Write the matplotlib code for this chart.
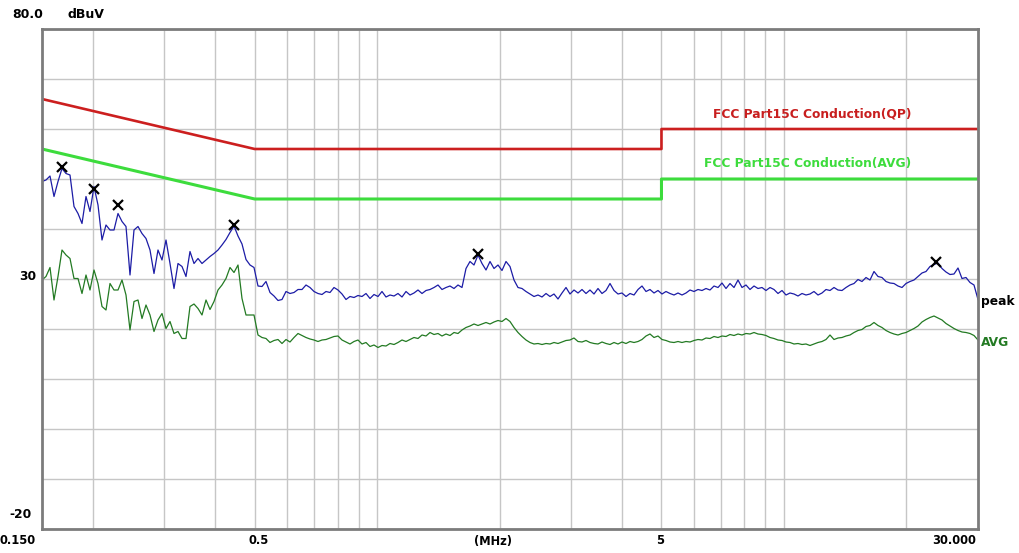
import matplotlib.pyplot as plt
import numpy as np

# limit lines (MHz, dBuV)
qp_freq = [0.15, 0.5, 5, 5, 30]
qp_limit = [66, 56, 56, 60, 60]
av_freq = [0.15, 0.5, 5, 5, 30]
av_limit = [56, 46, 46, 50, 50]

# peak detector sweep
peak_level = [
    49.5, 49.8, 50.6, 46.5, 49.5, 52.1, 51.1, 50.8, 44.5, 43.1,
    41.1, 46.5, 43.5, 48.5, 44.8, 37.8, 40.8, 39.8, 39.8, 43.1,
    41.5, 40.5, 30.8, 39.8, 40.5, 39.1, 38.1, 35.8, 31.1, 35.8,
    33.8, 37.8, 33.1, 28.1, 33.1, 32.5, 30.5, 35.5, 33.1, 34.1,
    33.1,
    33.8, 34.5, 35.1, 35.8, 36.8, 37.9, 39.3, 40.6, 38.6, 37.0,
    33.9, 32.8, 32.3, 28.6, 28.5, 29.5, 27.3, 26.6, 25.7, 25.9,
    27.5, 27.1, 27.3, 27.9, 27.9, 28.8, 28.3, 27.5, 27.1, 26.9,
    27.5, 27.3, 28.3, 27.8, 27.0, 25.9, 26.5, 26.3, 26.7,
    26.5, 27.1, 26.1, 26.9, 26.5, 27.5, 26.4, 26.8, 26.6, 27.1,
    26.4, 27.5, 26.8, 27.2, 27.8, 27.1, 27.7, 27.9, 28.3, 28.8,
    27.9, 28.3, 28.6, 28.1, 28.8, 28.3, 32.1, 33.5, 32.8, 34.8,
    33.1, 31.8, 33.5, 32.1, 32.8, 31.7, 33.5, 32.5, 29.8, 28.3,
    28.1, 27.5, 27.0, 26.5, 26.8, 26.4, 27.1, 26.5, 27.0, 26.0,
    27.2, 28.3, 27.0, 27.8, 27.2, 27.9, 27.1, 27.8, 27.0, 28.1,
    27.1, 27.7, 29.1, 27.7, 27.0, 27.2, 26.5, 27.1, 26.8, 27.9,
    28.6, 27.5, 27.9, 27.2, 27.7, 27.0, 27.5, 27.1, 26.8, 27.2,
    26.8, 27.2, 27.8, 27.5, 27.9, 27.7, 28.1, 27.8, 28.6, 28.3,
    29.2, 28.1, 29.1, 28.3, 29.8, 28.3, 28.8, 27.9, 28.6, 28.1,
    28.3, 27.7, 28.3, 27.9, 27.1, 27.7, 26.8, 27.2, 27.0, 26.6,
    27.1, 26.8, 27.0, 27.5, 26.8, 27.2, 27.9, 27.7, 28.3, 27.8,
    27.7, 28.3, 28.8, 29.1, 29.9, 29.5, 30.3, 29.8, 31.5, 30.5,
    30.3, 29.5, 29.2, 29.1, 28.6, 28.3, 29.1, 29.5, 29.8, 30.5,
    31.2, 31.5, 32.5, 32.9, 33.2, 32.1, 31.4, 30.9, 31.0, 32.2,
    30.1, 30.3, 29.3, 28.8, 25.9,
]

# average detector sweep
avg_level = [
    29.8, 30.5, 32.3, 25.8, 30.5, 35.8, 34.8, 34.1, 30.1, 30.1,
    27.1, 30.8, 27.8, 31.8, 29.1, 24.5, 23.8, 29.1, 27.8, 27.8,
    29.8, 26.8, 19.8, 25.5, 25.8, 22.1, 24.8, 22.8, 19.5, 21.8,
    23.1, 20.1, 21.5, 19.1, 19.5, 18.1, 18.1, 24.5, 25.0, 24.1,
    22.8,
    25.8, 23.9, 25.5, 27.8, 28.8, 30.1, 32.3, 31.3, 32.8, 26.1,
    22.8, 22.8, 22.8, 18.8, 18.3, 18.1, 17.3, 17.7, 17.9, 17.1,
    17.9, 17.4, 18.3, 19.1, 18.7, 18.3, 18.0, 17.8, 17.5, 17.8,
    17.9, 18.2, 18.5, 18.6, 17.8, 17.4, 17.0, 17.5, 17.8,
    17.0, 17.3, 16.5, 16.8, 16.3, 16.7, 16.6, 17.1, 16.9, 17.3,
    17.8, 17.5, 17.9, 18.3, 18.1, 18.8, 18.6, 19.3, 18.9, 19.1,
    18.6, 19.0, 18.7, 19.3, 19.1, 19.8, 20.3, 20.6, 21.0, 20.7,
    21.0, 21.3, 21.0, 21.4, 21.7, 21.5, 22.1, 21.5, 20.3, 19.3,
    18.5, 17.8, 17.3, 17.0, 17.1, 16.9, 17.1, 17.0, 17.3, 17.1,
    17.4, 17.7, 17.8, 18.2, 17.5, 17.4, 17.7, 17.3, 17.1, 17.0,
    17.4, 17.1, 16.9, 17.3, 17.0, 17.4, 17.1, 17.5, 17.3, 17.5,
    17.9, 18.6, 19.0, 18.3, 18.6, 17.9, 17.7, 17.4, 17.3, 17.5,
    17.3, 17.5, 17.4, 17.7, 17.9, 17.8, 18.2, 18.1, 18.5, 18.3,
    18.6, 18.5, 18.9, 18.7, 19.0, 18.8, 19.1, 19.0, 19.3, 19.0,
    18.9, 18.7, 18.3, 18.1, 17.8, 17.7, 17.4, 17.3, 17.0, 17.1,
    16.9, 17.0, 16.7, 17.0, 17.3, 17.5, 17.9, 18.8, 17.9, 18.2,
    18.3, 18.6, 18.8, 19.3, 19.7, 19.9, 20.5, 20.7, 21.3, 20.7,
    20.3, 19.7, 19.3, 19.0, 18.8, 19.1, 19.3, 19.7, 20.1, 20.6,
    21.4, 21.9, 22.3, 22.6, 22.2, 21.8, 21.1, 20.6, 20.1, 19.7,
    19.4, 19.3, 19.1, 18.7, 17.8,
]

# marked peaks
mark_freq = [0.168, 0.201, 0.231, 0.4455, 1.767, 23.7]
mark_level = [52.5, 48.1, 44.8, 40.8, 35.1, 33.5]

grid_freq = [0.2, 0.3, 0.4, 0.5, 0.6, 0.7, 0.8, 0.9, 1, 2, 3, 4, 5, 6, 7, 8, 9, 10, 20]

# sweep points are spaced evenly on the log axis
freq = np.geomspace(0.15, 30, len(peak_level))

W, H = 1019, 553
fig = plt.figure(figsize=(W / 100, H / 100), dpi=100)
ax = fig.add_axes([42 / W, 1 - 529 / H, 936 / W, 500 / H])
ax.set_xscale('log')
ax.set_xlim(0.15, 30)
ax.set_ylim(-20, 80)
ax.set_xticks(grid_freq)
ax.set_yticks(range(-20, 81, 10))
ax.minorticks_off()
ax.tick_params(length=0, labelbottom=False, labelleft=False)
ax.grid(color='#c6c6c6', lw=1)
for s in ax.spines.values():
    s.set_color('#7c7c7c')
    s.set_linewidth(2)

ax.plot(qp_freq, qp_limit, color='#cc1f1f', lw=1.9)
ax.plot(av_freq, av_limit, color='#3ddc3d', lw=2.2)
ax.plot(freq, peak_level, color='#1c1ca6', lw=0.9)
ax.plot(freq, avg_level, color='#237a23', lw=0.9)
ax.plot(mark_freq, mark_level, 'x', color='black', ms=7, mew=1.6)

bold = dict(fontweight='bold', family='DejaVu Sans')
ax.text(20.6, 63.0, 'FCC Part15C Conduction(QP)', color='#c81e1e', fontsize=8.8,
        ha='right', va='center', **bold)
ax.text(20.6, 53.2, 'FCC Part15C Conduction(AVG)', color='#3ddc3d', fontsize=8.8,
        ha='right', va='center', **bold)


def ftext(x, y, s, size=8.8, **kw):
    fig.text(x / W, 1 - y / H, s, va='center', fontsize=size, **bold, **kw)


ftext(12, 15, '80.0', ha='left', size=9)
ftext(67, 15, 'dBuV', ha='left', size=9)
ftext(36, 277, '30', ha='right')
ftext(32, 514, '-20', ha='right')
ftext(18, 541, '0.150', ha='center', size=8.3)
ftext(259, 541, '0.5', ha='center', size=8.3)
ftext(493, 541, '(MHz)', ha='center', size=8.3)
ftext(660, 541, '5', ha='center', size=8.3)
ftext(976, 541, '30.000', ha='right', size=8.3)
ftext(981, 301, 'peak', ha='left')
ftext(981, 343, 'AVG', ha='left', color='#237a23')

fig.savefig('out.png', dpi=100)
